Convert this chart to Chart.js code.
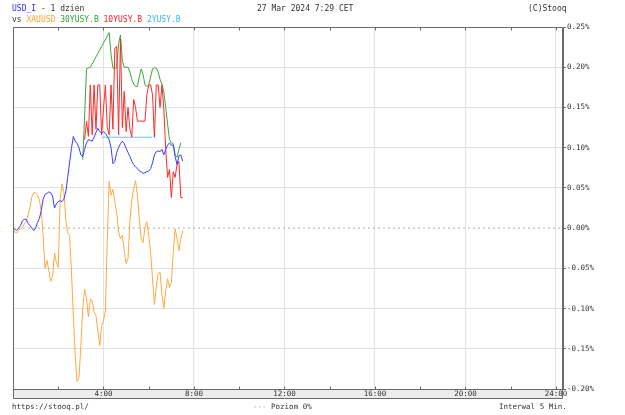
<!DOCTYPE html>
<html><head><meta charset="utf-8">
<script src="https://cdn.jsdelivr.net/npm/chart.js@4.4.1/dist/chart.umd.min.js"></script>
<style>
html,body{margin:0;padding:0;background:#fff;}
#wrap{position:relative;width:625px;height:415px;overflow:hidden;font-family:"DejaVu Sans Mono",monospace;}
#c{position:absolute;left:0;top:0;width:625px;height:415px;}
.t{position:absolute;white-space:pre;font-size:8px;line-height:10px;color:#333;}
</style></head><body>
<div id="wrap">
<canvas id="c" width="625" height="415"></canvas>
<div class="t" style="left:12px;top:4px"><span style="color:#2a2aff">USD_I</span> - 1 dzien</div>
<div class="t" style="left:257px;top:4px">27 Mar 2024 7:29 CET</div>
<div class="t" style="left:528px;top:4px">(C)Stooq</div>
<div class="t" style="left:12px;top:15px">vs <span style="color:#ffa030">XAUUSD</span> <span style="color:#30a030">30YUSY.B</span> <span style="color:#ff2020">10YUSY.B</span> <span style="color:#30b4ff">2YUSY.B</span></div>
<div class="t" style="left:12px;top:402px;font-size:7.5px">https://stooq.pl/</div>
<div class="t" style="left:253px;top:402px;font-size:7.5px"><span style="color:#999">---</span> Poziom 0%</div>
<div class="t" style="left:499px;top:402px;font-size:7.5px">Interwal 5 Min.</div>
</div>
<script>
const INTERVAL_MIN = 5;
const X_MAX_HOURS = 24.31;
const xTickHours = [0,2,4,6,8,10,12,14,16,18,20,22,24];
const yTicks = [-0.20,-0.15,-0.10,-0.05,0.00,0.05,0.10,0.15,0.20,0.25];

const usdI = [
 0.000,-0.001,-0.003,0.000,0.003,0.009,0.011,0.011,0.006,0.003,
 0.000,-0.003,0.000,0.007,0.012,0.022,0.036,0.042,0.043,0.045,
 0.044,0.040,0.025,0.030,0.033,0.034,0.033,0.036,0.045,0.063,
 0.081,0.099,0.114,0.108,0.105,0.100,0.091,0.089,0.098,0.106,
 0.110,0.109,0.108,0.113,0.119,0.124,0.120,0.118,0.120,0.118,
 0.114,0.110,0.100,0.080,0.083,0.094,0.100,0.105,0.108,0.105,
 0.099,0.094,0.089,0.083,0.079,0.076,0.074,0.071,0.070,0.068,
 0.069,0.070,0.071,0.074,0.081,0.091,0.095,0.096,0.095,0.098,
 0.091,0.098,0.103,0.106,0.103,0.103,0.089,0.079,0.090,0.091,
 0.083];

const xauusd = [
 0.000,-0.005,-0.006,-0.003,-0.001,0.001,0.005,0.008,0.016,0.026,
 0.039,0.044,0.044,0.041,0.035,0.021,-0.010,-0.050,-0.040,-0.053,
 -0.066,-0.060,-0.031,-0.043,-0.049,0.035,0.055,0.045,0.010,-0.006,
 -0.009,-0.053,-0.109,-0.159,-0.191,-0.186,-0.146,-0.099,-0.076,-0.088,
 -0.110,-0.088,-0.090,-0.104,-0.109,-0.128,-0.146,-0.121,-0.115,-0.103,
 -0.015,0.058,0.041,0.048,0.033,0.019,-0.005,-0.013,-0.009,-0.028,
 -0.044,-0.038,0.008,0.035,0.049,0.059,0.041,0.011,-0.013,-0.018,
 0.001,0.008,-0.010,-0.030,-0.063,-0.095,-0.073,-0.056,-0.055,-0.083,
 -0.100,-0.078,-0.063,-0.074,-0.068,-0.030,-0.001,-0.013,-0.028,-0.013,
 -0.003];

const us30y = [
 null,null,null,null,null,null,null,null,null,null,
 null,null,null,null,null,null,null,null,null,null,
 null,null,null,null,null,null,null,null,null,null,
 null,null,null,null,null,null,null,0.085,0.141,0.198,
 0.199,0.200,null,null,null,null,null,null,null,null,
 null,0.243,0.216,0.199,0.199,0.199,0.229,0.240,0.208,0.200,
 0.200,0.200,0.194,0.185,0.179,0.176,0.176,0.188,0.198,0.191,
 0.178,0.176,0.178,0.188,0.198,0.199,0.199,0.194,0.185,0.179,
 0.169,0.150,0.129,0.110,0.106,0.105,0.091,0.088,0.098,0.106,
 null];

const us10y = [
 null,null,null,null,null,null,null,null,null,null,
 null,null,null,null,null,null,null,null,null,null,
 null,null,null,null,null,null,null,null,null,null,
 null,null,null,null,null,null,null,null,0.110,0.133,
 0.114,0.178,0.116,0.178,0.123,0.178,0.178,0.116,0.148,0.178,
 0.125,0.116,0.178,0.123,0.223,0.226,0.116,0.235,0.125,0.170,
 0.120,0.150,0.123,0.113,0.160,0.150,0.133,0.133,0.133,0.133,
 0.133,0.166,0.178,0.178,0.166,0.113,0.178,0.178,0.150,0.178,
 0.148,0.098,0.063,0.073,0.038,0.070,0.063,0.079,0.083,0.038,
 0.038];

const us2y = [
 null,null,null,null,null,null,null,null,null,null,
 null,null,null,null,null,null,null,null,null,null,
 null,null,null,null,null,null,null,null,null,null,
 null,null,null,null,null,null,null,null,null,null,
 null,null,null,null,null,null,null,0.113,null,null,
 null,null,null,null,null,null,null,null,null,null,
 null,null,null,null,null,null,null,null,null,null,
 null,null,null,null,0.113,null,null,null,null,null,
 null,null,null,null,null,null,null,null,null,null,
 null];

const toPts = arr => arr.map((v,i)=>({x:i*INTERVAL_MIN/60, y:v}));

const framePlugin = {
  id:'frame',
  beforeDraw(chart){
    const {ctx, chartArea:a} = chart;
    ctx.save();
    ctx.fillStyle = '#ececec';
    ctx.fillRect(a.left, a.bottom, a.right-a.left, 9);
    ctx.restore();
  },
  afterDraw(chart){
    const {ctx, chartArea:a, scales} = chart;
    const xs = scales.x;
    ctx.save();
    ctx.strokeStyle = '#6a6a6a';
    ctx.lineWidth = 1;
    ctx.beginPath();
    const L = Math.round(a.left)+0.5, R = Math.round(a.right)-0.5;
    const T = Math.round(a.top)+0.5, B = Math.round(a.bottom)+0.5;
    ctx.moveTo(L, T); ctx.lineTo(R, T);
    ctx.moveTo(L, T); ctx.lineTo(L, B+9);
    ctx.moveTo(L, B); ctx.lineTo(R, B);
    ctx.moveTo(L, B+9); ctx.lineTo(R, B+9);
    ctx.moveTo(R, T); ctx.lineTo(R, B+9);
    xTickHours.forEach(h=>{
      const px = Math.round(xs.getPixelForValue(h))+0.5;
      if (px <= L+1) return;
      ctx.moveTo(px, T); ctx.lineTo(px, T+3);
      ctx.moveTo(px, B); ctx.lineTo(px, B-3);
    });
    ctx.stroke();
    ctx.restore();
  }
};

new Chart(document.getElementById('c'), {
  type:'line',
  data:{datasets:[
    {label:'USD_I', data:toPts(usdI), borderColor:'#3c3cff', order:1},
    {label:'10YUSY.B', data:toPts(us10y), borderColor:'#ff2a2a', order:2},
    {label:'2YUSY.B', data:toPts(us2y), borderColor:'#60ccff', order:3, spanGaps:true},
    {label:'30YUSY.B', data:toPts(us30y), borderColor:'#3aa63a', order:4, spanGaps:true},
    {label:'XAUUSD', data:toPts(xauusd), borderColor:'#ffa840', order:5},
    {label:'Poziom 0%', data:[{x:0,y:0},{x:X_MAX_HOURS,y:0}], borderColor:'#b0b0b0', borderDash:[2,3], order:6}
  ]},
  options:{
    responsive:false, devicePixelRatio:1, animation:false,
    layout:{padding:{left:13, top:27, right:0, bottom:0}},
    elements:{point:{radius:0}, line:{borderWidth:1, tension:0}},
    plugins:{legend:{display:false}, tooltip:{enabled:false}},
    scales:{
      x:{type:'linear', min:0, max:X_MAX_HOURS, position:'bottom',
        afterBuildTicks(s){ s.ticks = xTickHours.map(v=>({value:v})); },
        afterFit(s){ s.height = 26; },
        border:{display:false},
        grid:{drawTicks:false, color:c => (c.tick && c.tick.value%4===0 && c.tick.value>0) ? '#e2e2e2' : 'rgba(0,0,0,0)'},
        ticks:{autoSkip:false, maxRotation:0, padding:1, color:'#333',
          font:{family:'"DejaVu Sans Mono", monospace', size:7.5},
          callback:v => (v%4===0 && v>0) ? v+':00' : ''}
      },
      y:{type:'linear', min:-0.20, max:0.25, position:'right',
        afterBuildTicks(s){ s.ticks = yTicks.map(v=>({value:v})); },
        afterFit(s){ s.width = 62; },
        border:{display:true, color:'#6a6a6a'},
        grid:{drawTicks:true, tickLength:3, tickColor:'#6a6a6a',
          color:c => (c.tick && Math.abs(c.tick.value)<1e-9) ? 'rgba(0,0,0,0)' : '#e2e2e2'},
        ticks:{padding:1, color:'#333',
          font:{family:'"DejaVu Sans Mono", monospace', size:7.5},
          callback:v => v.toFixed(2)+'%'}
      }
    }
  },
  plugins:[framePlugin]
});
</script>
</body></html>
